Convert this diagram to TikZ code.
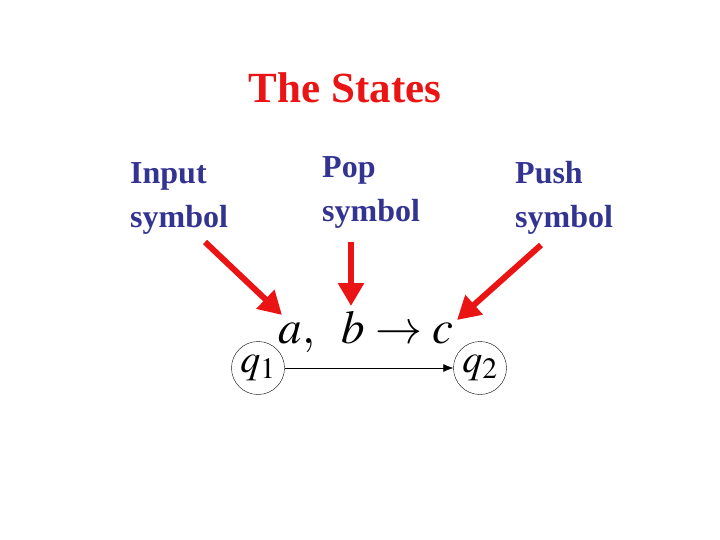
\documentclass[tikz,border=0pt]{standalone}
\usepackage{mathptmx}
\usepackage{fontspec}
\setmainfont{Liberation Serif}
\usepackage{xcolor}
\usetikzlibrary{arrows.meta}

\definecolor{slideblue}{RGB}{51,51,145}
\definecolor{slidered}{RGB}{235,20,20}

\tikzset{
    title/.style={text=slidered, font=\bfseries\fontsize{43}{50}\selectfont, inner sep=0pt},
    role/.style={text=slideblue, font=\bfseries\fontsize{32}{44}\selectfont, align=left, inner sep=0pt},
    state/.style={circle, draw, thin, minimum size=53pt, inner sep=0pt, font=\fontsize{40}{40}\selectfont},
    pointer/.style={draw=slidered, line width=6pt, -{Triangle[length=23pt,width=25pt]}}
}

\begin{document}
\begin{tikzpicture}[x=1pt, y=-1pt]
    \useasboundingbox (0,0) rectangle (720,540);

    \node[title, anchor=base] (heading) at (345,103) {The States};

    % base of each label is its last line
    \node[role, anchor=base west] (input) at (130,228) {Input\\symbol};
    \node[role, anchor=base west] (pop) at (322,222) {Pop\\symbol};
    \node[role, anchor=base west] (push) at (515,228) {Push\\symbol};

    \node[state] (q1) at (258,368) {$q_1$};
    \node[state] (q2) at (480,368) {$q_2$};
    \draw[semithick, -{Latex[length=10pt,width=8pt]}] (q1) -- (q2);
    \node[anchor=base, inner sep=0pt, font=\fontsize{47}{47}\selectfont] (trans) at (366,343) {$a,\;\;b\rightarrow c$};

    % red pointers
    \coordinate (inStart) at (205,242);
    \coordinate (inTip) at (282,315);
    \coordinate (popStart) at (351,242);
    \coordinate (popTip) at (351,306);
    \coordinate (pushStart) at (541,245);
    \coordinate (pushTip) at (457,320);
    \draw[pointer] (inStart) -- (inTip);
    \draw[pointer] (popStart) -- (popTip);
    \draw[pointer] (pushStart) -- (pushTip);
\end{tikzpicture}
\end{document}
